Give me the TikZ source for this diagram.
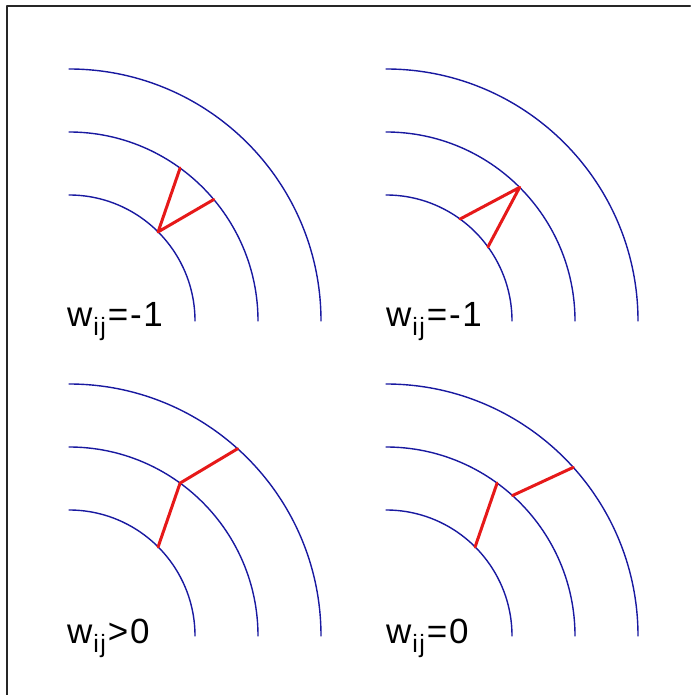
\documentclass[tikz,border=0pt]{standalone}
\usepackage{fontspec}
\setmainfont{Liberation Sans}
\usetikzlibrary{calc}

\definecolor{arcblue}{RGB}{25,25,160}
\definecolor{linkred}{RGB}{230,25,25}
\newcommand{\wlabel}[1]{w\kern1pt\raisebox{-9pt}{\fontsize{25}{25}\selectfont ij}\kern2pt#1}

\begin{document}
\begin{tikzpicture}[x=1pt, y=1pt, line join=round, line cap=round,
    ring/.style={draw=arcblue, line width=1.4pt},
    link/.style={draw=linkred, line width=3pt},
    tag/.style={anchor=base west, inner sep=0pt,
      font=\fontsize{35}{35}\selectfont\addfontfeature{LetterSpace=5}}]
    \useasboundingbox (0,0) rectangle (690,695);
    \draw[line width=2pt, black!85] (7,0) -- (7,689) -- (690,689);
    % centres of the four panels
    \coordinate (c1) at (69,374);
    \coordinate (c2) at (386,374);
    \coordinate (c3) at (69,59);
    \coordinate (c4) at (386,59);
    \foreach \c in {c1,c2,c3,c4}
      \foreach \r in {126,189,252}
        \draw[ring] ($(\c)+(0,\r)$) arc[start angle=90, end angle=0, radius=\r];
    % top left
    \coordinate (a1) at ($(c1)+(45:126)$);
    \coordinate (a2) at ($(c1)+(54:189)$);
    \coordinate (a3) at ($(c1)+(40:189)$);
    \draw[link] (a2) -- (a1) -- (a3);
    \node[tag] (l1) at (67,368) {\wlabel{=-1}};
    % top right
    \coordinate (b1) at ($(c2)+(54:126)$);
    \coordinate (b2) at ($(c2)+(36:126)$);
    \coordinate (b3) at ($(c2)+(45:189)$);
    \draw[link] (b1) -- (b3) -- (b2);
    \node[tag] (l2) at (386,368) {\wlabel{=-1}};
    % bottom left
    \coordinate (d1) at ($(c3)+(45:126)$);
    \coordinate (d2) at ($(c3)+(54:189)$);
    \coordinate (d3) at ($(c3)+(48:252)$);
    \draw[link] (d1) -- (d2) -- (d3);
    \node[tag] (l3) at (67,51) {\wlabel{>0}};
    % bottom right
    \coordinate (e1) at ($(c4)+(45:126)$);
    \coordinate (e2) at ($(c4)+(54:189)$);
    \coordinate (e3) at ($(c4)+(48:189)$);
    \coordinate (e4) at ($(c4)+(42:252)$);
    \draw[link] (e1) -- (e2);
    \draw[link] (e3) -- (e4);
    \node[tag] (l4) at (386,51) {\wlabel{=0}};
  \end{tikzpicture}
\end{document}
